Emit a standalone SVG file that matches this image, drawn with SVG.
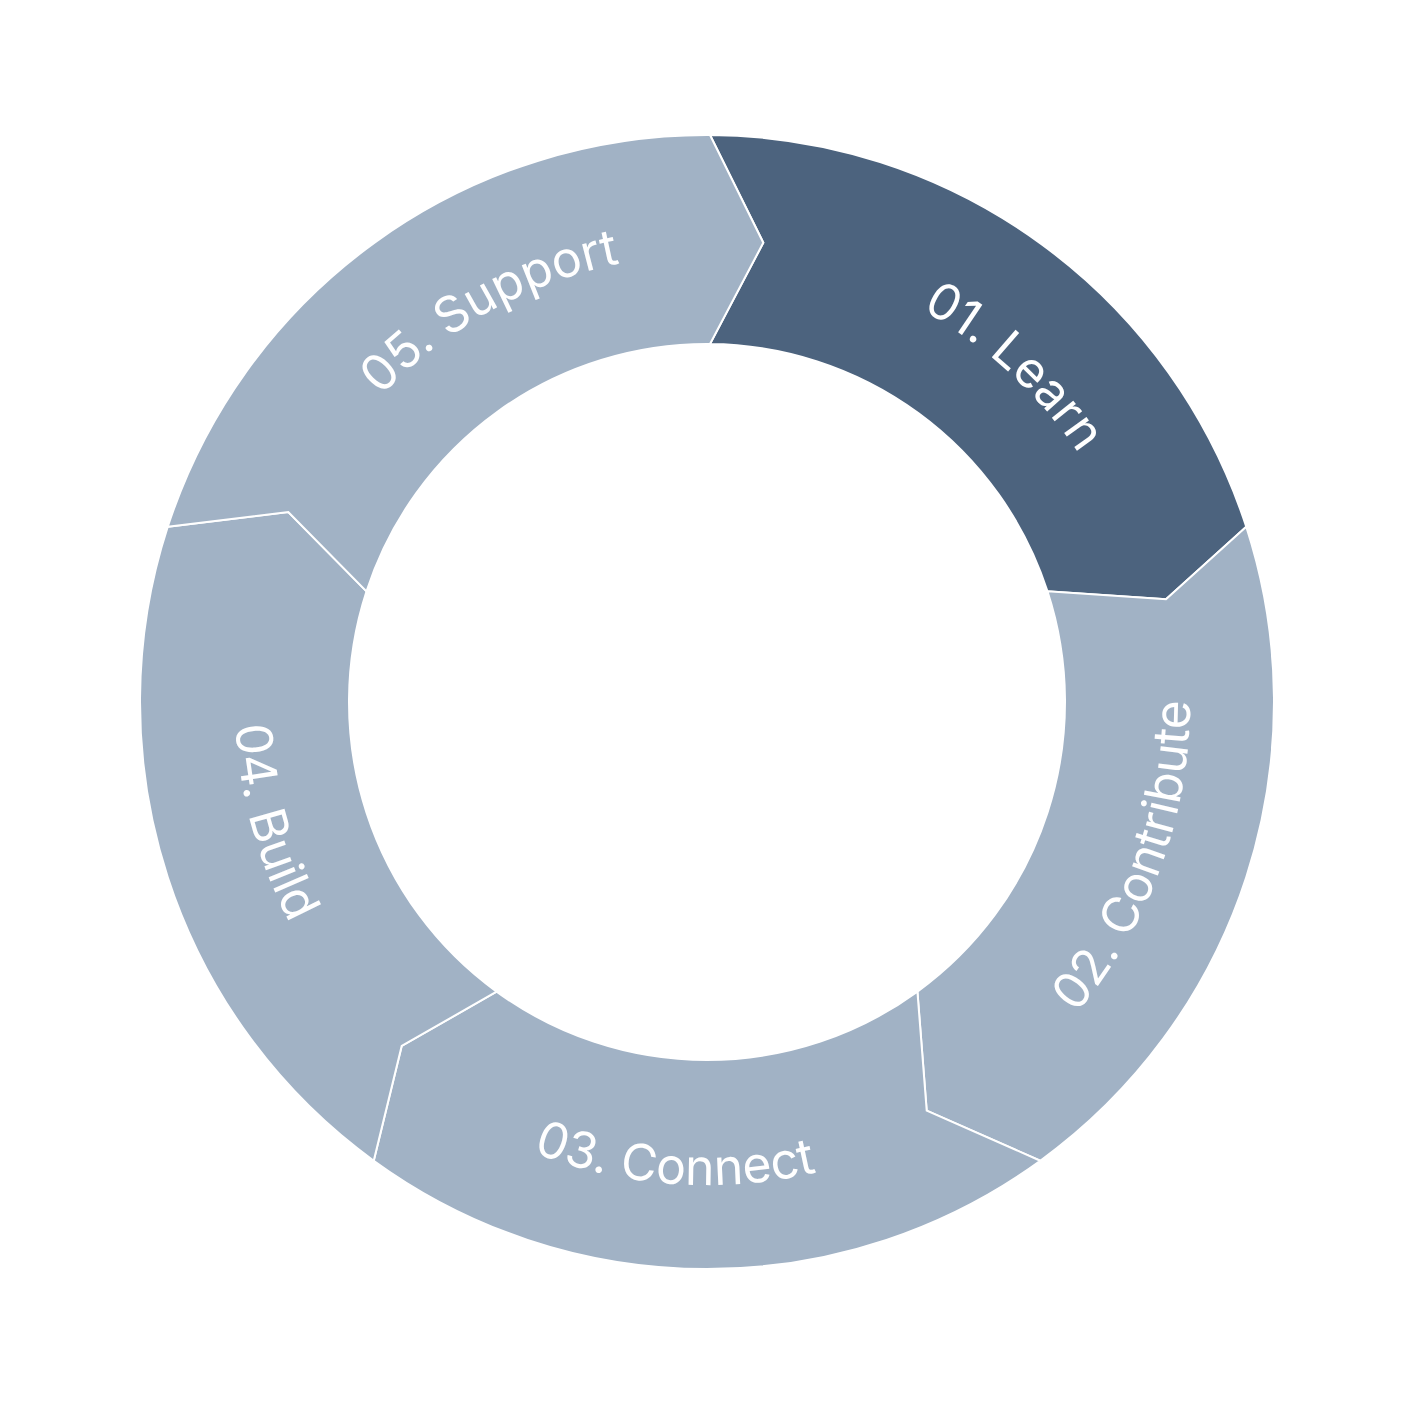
<svg xmlns="http://www.w3.org/2000/svg" width="1416" height="1419" viewBox="0 0 1416 1419">
<style>
.seg{stroke:#ffffff;stroke-width:2;stroke-linejoin:miter}
.dark{fill:#4C637E}
.light{fill:#A1B2C5}
.lbl{font-family:Inter,"Liberation Sans",sans-serif;font-size:50px;fill:#ffffff;text-anchor:middle}
</style>
<defs>
<path id="arc1" d="M 572.58 275.69 A 447 447 0 0 1 1143.4 798.75"/>
<path id="arc5" d="M 260.07 694.2 A 447 447 0 0 1 937.22 318.85"/>
<path id="arc3" d="M 272.88 913.73 A 483 483 0 0 0 1107.42 972.09"/>
<path id="arc2" d="M 790.87 1177.66 A 483 483 0 0 0 1077 391.53"/>
<path id="arc4" d="M 370.98 370.53 A 472 472 0 0 0 588.02 1158.76"/>
</defs>
<rect width="1416" height="1419" fill="#ffffff"/>
<g id="node-01">
<path class="seg dark" d="M 710 135 A 567 567 0 0 1 1246.25 526.79 L 1166 599.3 L 1047.48 591.37 A 358 358 0 0 0 710 344 L 763.3 242.7 Z"/>
<text class="lbl"><textPath href="#arc1" startOffset="50%">01. Learn</textPath></text>
</g>
<g id="node-02">
<path class="seg light" d="M 1246.25 526.79 A 567 567 0 0 1 1040.27 1160.71 L 926.7 1110.7 L 917.43 991.63 A 358 358 0 0 0 1047.48 591.37 L 1166 599.3 Z"/>
<text class="lbl"><textPath href="#arc2" startOffset="50%">02. Contribute</textPath></text>
</g>
<g id="node-03">
<path class="seg light" d="M 1040.27 1160.71 A 567 567 0 0 1 373.73 1160.71 L 401.7 1046 L 496.57 991.63 A 358 358 0 0 0 917.43 991.63 L 926.7 1110.7 Z"/>
<text class="lbl"><textPath href="#arc3" startOffset="50%">03. Connect</textPath></text>
</g>
<g id="node-04">
<path class="seg light" d="M 373.73 1160.71 A 567 567 0 0 1 167.75 526.79 L 288.3 512 L 366.52 591.37 A 358 358 0 0 0 496.57 991.63 L 401.7 1046 Z"/>
<text class="lbl"><textPath href="#arc4" startOffset="50%">04. Build</textPath></text>
</g>
<g id="node-05">
<path class="seg light" d="M 167.75 526.79 A 567 567 0 0 1 710 135 L 763.3 242.7 L 710 344 A 358 358 0 0 0 366.52 591.37 L 288.3 512 Z"/>
<text class="lbl"><textPath href="#arc5" startOffset="50%">05. Support</textPath></text>
</g>
</svg>
